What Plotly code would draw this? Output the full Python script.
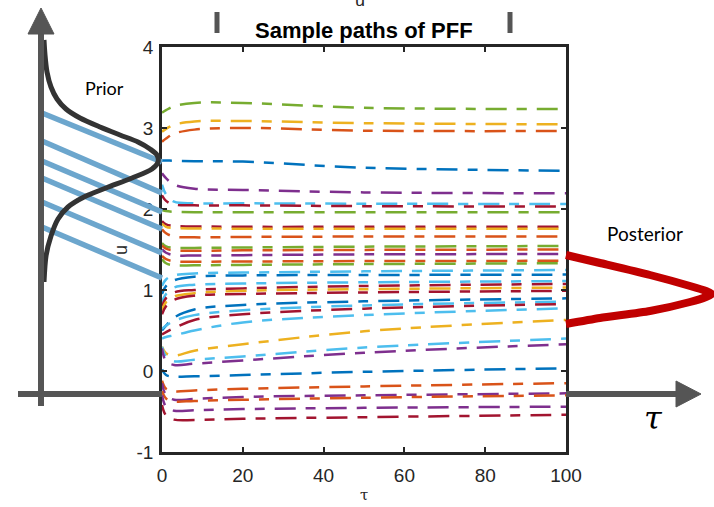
import plotly.graph_objects as go

# ---------------- data ----------------
TAU = [0, 1, 3, 8, 20, 50, 100]

PATH_COLORS = ["G", "Y", "O", "B", "P", "L", "R", "G", "R", "Y", "O", "G", "O", "P", "O", "G",
               "L", "B", "L", "R", "Y", "R", "B", "L", "R", "L", "Y", "L", "P", "B", "O", "P",
               "O", "P", "R"]

PATH_VALUES = [
    [3.19, 3.22, 3.27, 3.31, 3.31, 3.25, 3.235],
    [2.955, 2.99, 3.04, 3.08, 3.086, 3.06, 3.045],
    [2.83, 2.87, 2.93, 2.98, 3.0, 2.967, 2.963],
    [2.60, 2.60, 2.595, 2.59, 2.585, 2.51, 2.473],
    [2.44, 2.38, 2.30, 2.25, 2.235, 2.205, 2.194],
    [2.30, 2.18, 2.09, 2.07, 2.07, 2.065, 2.062],
    [2.17, 2.10, 2.055, 2.045, 2.045, 2.035, 2.03],
    [1.99, 1.975, 1.965, 1.96, 1.96, 1.96, 1.959],
    [1.85, 1.81, 1.79, 1.785, 1.78, 1.78, 1.78],
    [1.82, 1.78, 1.765, 1.76, 1.757, 1.757, 1.757],
    [1.75, 1.70, 1.66, 1.65, 1.655, 1.66, 1.66],
    [1.58, 1.54, 1.52, 1.52, 1.525, 1.535, 1.543],
    [1.55, 1.51, 1.49, 1.485, 1.49, 1.495, 1.50],
    [1.50, 1.46, 1.43, 1.425, 1.43, 1.44, 1.444],
    [1.42, 1.38, 1.355, 1.35, 1.352, 1.357, 1.36],
    [1.38, 1.33, 1.305, 1.305, 1.31, 1.32, 1.33],
    [1.05, 1.13, 1.18, 1.205, 1.215, 1.23, 1.247],
    [0.95, 1.05, 1.12, 1.165, 1.18, 1.185, 1.19],
    [0.85, 0.95, 1.03, 1.065, 1.08, 1.095, 1.11],
    [0.80, 0.90, 0.97, 1.0, 1.02, 1.05, 1.074],
    [0.75, 0.85, 0.92, 0.96, 0.99, 1.01, 1.03],
    [0.70, 0.80, 0.88, 0.93, 0.95, 0.97, 0.99],
    [0.50, 0.56, 0.66, 0.76, 0.815, 0.86, 0.897],
    [0.52, 0.56, 0.62, 0.69, 0.75, 0.81, 0.856],
    [0.45, 0.48, 0.53, 0.63, 0.70, 0.77, 0.827],
    [0.40, 0.42, 0.44, 0.50, 0.60, 0.69, 0.774],
    [0.30, 0.22, 0.19, 0.25, 0.33, 0.49, 0.63],
    [0.30, 0.18, 0.12, 0.14, 0.18, 0.29, 0.40],
    [0.28, 0.12, 0.075, 0.09, 0.13, 0.226, 0.33],
    [0.02, -0.05, -0.07, -0.065, -0.05, -0.01, 0.033],
    [-0.12, -0.22, -0.25, -0.24, -0.22, -0.19, -0.15],
    [-0.15, -0.30, -0.355, -0.345, -0.32, -0.30, -0.276],
    [-0.25, -0.34, -0.375, -0.37, -0.355, -0.33, -0.30],
    [-0.30, -0.44, -0.49, -0.485, -0.47, -0.455, -0.44],
    [-0.42, -0.55, -0.60, -0.605, -0.59, -0.57, -0.54],
]

X_TICKS = [0, 20, 40, 60, 80, 100]
X_TICKTEXT = ["0", "20", "40", "60", "80", "100"]
Y_TICKS = [-1, 0, 1, 2, 3, 4]
Y_TICKTEXT = ["-1", "0", "1", "2", "3", "4"]

# illustration curves (in figure pixel space)
PRIOR_X = [44, 45, 47, 51, 57, 66, 80, 100, 120, 138, 150, 157, 158, 152, 132, 106, 84, 68, 58, 51, 46, 44]
PRIOR_Y = [40, 55, 72, 87, 99, 109, 118, 127, 135, 142, 149, 155, 162, 169, 178, 188, 197, 207, 219, 236, 256, 282]
POST_X = [566, 600, 650, 690, 706, 712, 706, 690, 650, 600, 566]
POST_Y = [255, 263, 275, 286, 291, 294, 297, 302, 311, 318, 324]
LINK_Y0 = [113, 141, 161, 178, 202, 227]
LINK_Y1 = [162, 193, 212, 229, 253, 278]

COLOR_MAP = {"B": "#0072BD", "O": "#D95319", "Y": "#EDB120", "P": "#7E2F8E",
             "G": "#77AC30", "L": "#4DBEEE", "R": "#A2142F"}

W, H = 714, 507
AX_L, AX_R, AX_T, AX_B = 162, 566, 47, 452

fig = go.Figure()

GRAY = "#555555"
def ov(**kw):
    kw.setdefault("mode", "lines")
    kw.setdefault("hoverinfo", "skip")
    kw.setdefault("showlegend", False)
    return go.Scatter(xaxis="x2", yaxis="y2", **kw)

# ---------------- sample paths ----------------
for ck, vals in zip(PATH_COLORS, PATH_VALUES):
    fig.add_trace(go.Scatter(x=TAU, y=vals, mode="lines", hoverinfo="skip", showlegend=False,
                             line=dict(color=COLOR_MAP[ck], width=2.5, shape="spline",
                                       dash="10px,10px,21px,10px")))

# ---------------- illustration layer (full-figure axes) ----------------
for y0, y1 in zip(LINK_Y0, LINK_Y1):
    fig.add_trace(ov(x=[42, AX_L], y=[y0, y1], line=dict(color="#6CA6CD", width=5.5)))
fig.add_trace(ov(x=PRIOR_X, y=PRIOR_Y, line=dict(color="#333333", width=5, shape="spline", smoothing=0.8)))
fig.add_trace(ov(x=POST_X, y=POST_Y, line=dict(color="#C00000", width=8, shape="spline", smoothing=0.6)))
fig.add_trace(ov(x=[41, 41], y=[406, 30], line=dict(color=GRAY, width=6)))
fig.add_trace(ov(x=[28, 54, 41, 28], y=[34, 34, 8, 34], fill="toself", fillcolor=GRAY,
                 line=dict(color=GRAY, width=1)))
fig.add_trace(ov(x=[18, AX_L], y=[394, 394], line=dict(color=GRAY, width=6)))
fig.add_trace(ov(x=[AX_R, 680], y=[394, 394], line=dict(color=GRAY, width=6)))
fig.add_trace(ov(x=[676, 676, 701, 676], y=[381, 407, 394, 381], fill="toself", fillcolor=GRAY,
                 line=dict(color=GRAY, width=1)))
for xm in [217, 510]:
    fig.add_trace(ov(x=[xm, xm], y=[12, 33], line=dict(color=GRAY, width=5)))

axis_common = dict(showline=True, mirror="ticks", linecolor="#262626", linewidth=2.5,
                   ticks="inside", ticklen=5, tickwidth=2, tickcolor="#262626",
                   showgrid=False, zeroline=False, automargin=False,
                   tickfont=dict(family="Liberation Sans", size=19, color="#262626"))

fig.update_layout(
    width=W, height=H, autosize=False, margin=dict(l=0, r=0, t=0, b=0, pad=0),
    paper_bgcolor="white", plot_bgcolor="rgba(0,0,0,0)", showlegend=False,
    xaxis=dict(domain=[AX_L / W, AX_R / W], range=[0, 100], tickvals=X_TICKS, ticktext=X_TICKTEXT,
               anchor="y", ticklabelstandoff=4, **axis_common),
    yaxis=dict(domain=[(H - AX_B) / H, (H - AX_T) / H], range=[-1, 4], tickvals=Y_TICKS, ticktext=Y_TICKTEXT,
               anchor="x", ticklabelstandoff=2, **axis_common),
    xaxis2=dict(domain=[0, 1], range=[0, W], visible=False, fixedrange=True, anchor="y2", automargin=False),
    yaxis2=dict(domain=[0, 1], range=[H, 0], visible=False, fixedrange=True, anchor="x2", automargin=False),
)

def px(x, y):
    return x / W, 1 - y / H

annots = [
    dict(text="<b>Sample paths of PFF</b>", pos=(364, 31), font=dict(family="Liberation Sans", size=22, color="black")),
    dict(text="Prior", pos=(104, 88), font=dict(family="Lato", size=18, color="black")),
    dict(text="Posterior", pos=(645, 233), font=dict(family="Lato", size=19, color="black")),
    dict(text="τ", pos=(653, 418), font=dict(family="DejaVu Serif", size=32, color="black", style="italic")),
    dict(text="τ", pos=(364, 495), font=dict(family="DejaVu Serif", size=15, color="#262626")),
    dict(text="u", pos=(121, 250), font=dict(family="Liberation Sans", size=18, color="#262626"), angle=-90),
    dict(text="u", pos=(360, 0), font=dict(family="Liberation Sans", size=18, color="#262626")),
]
for a in annots:
    xx, yy = px(*a["pos"])
    fig.add_annotation(x=xx, y=yy, xref="paper", yref="paper", text=a["text"], showarrow=False,
                       font=a["font"], textangle=a.get("angle", 0), xanchor="center", yanchor="middle")

fig.write_html("out.html", config={"displayModeBar": False},
               post_script="document.body.style.margin='0';document.body.style.overflow='hidden';")
